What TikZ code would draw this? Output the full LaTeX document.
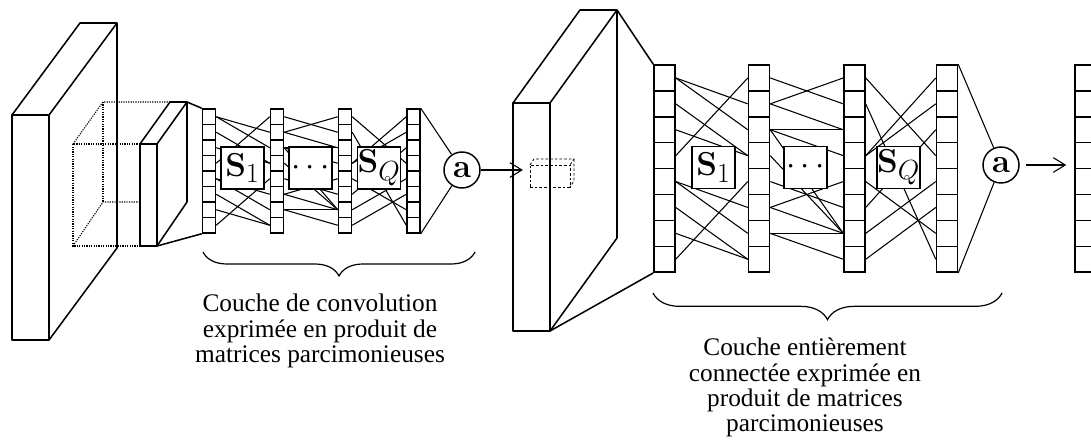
\documentclass[tikz,border=0pt]{standalone}
\usepackage[no-math]{fontspec}
\setmainfont{Liberation Serif}
\usetikzlibrary{decorations.pathreplacing,arrows.meta}
\newcommand{\netcol}[5]{%
  \foreach \i in {1,...,8}{%
    \node[cellbox, minimum width={#4*0.75pt}, minimum height={#5*0.75pt}] (#1-\i) at ({#2},{#3+(\i-0.5)*#5}) {};
  }}
\begin{document}
\begin{tikzpicture}[x=0.75pt,y=-0.75pt,
  slab/.style={line width=1.15pt, line join=round},
  cellbox/.style={draw, line width=1.1pt, inner sep=0pt, fill=white},
  conn/.style={line width=0.8pt},
  mat/.style={draw, line width=1.1pt, fill=white, inner sep=0pt, minimum width=32.25pt, minimum height=31.5pt, font=\fontsize{24.88}{28}\selectfont},
  act/.style={draw, circle, line width=1.1pt, fill=white, inner sep=0pt, minimum size=27pt, font=\fontsize{24.88}{28}\selectfont},
  arr/.style={line width=0.8pt, -{Straight Barb[length=9pt,width=11pt]}},
  lbl/.style={font=\fontsize{19}{19}\selectfont, align=center, inner sep=0pt, anchor=north},
  dots3/.style={dash pattern=on 0.9pt off 0.9pt, line width=0.8pt},
  dash3/.style={dash pattern=on 2pt off 1.5pt, line width=0.6pt},
  brc/.style={decorate, line width=0.9pt}]
\useasboundingbox (0,0) rectangle (1091,440);
\clip (0,0) rectangle (1091,440);

% ---------- left input slab ----------
\draw[slab] (12,115) rectangle (49,340);
\draw[slab] (12,115) -- (80,23) -- (117,23) -- (49,115);
\draw[slab] (117,23) -- (117,248) -- (49,340);

% dotted receptive field
\draw[dots3] (140,144) -- (73,144) -- (73,246) -- (140,246);
\draw[dots3] (73,144) -- (103,102) -- (170,102);
\draw[dots3] (73,246) -- (103,202) -- (140,202);
\draw[dots3] (103,102) -- (103,202);

% small solid slab
\draw[slab] (140,144) rectangle (157,246);
\draw[slab] (140,144) -- (170,102) -- (187,102) -- (157,144);
\draw[slab] (187,102) -- (187,202) -- (157,246);
\coordinate (sstr) at (187,102);
\coordinate (ssbr) at (157,246);

% ---------- left network ----------
\netcol{L1}{209}{109}{13}{15.5}
\netcol{L2}{277}{109}{13}{15.5}
\netcol{L3}{345}{109}{13}{15.5}
\netcol{L4}{413.5}{109}{13}{15.5}
\draw[slab] (sstr) -- (L1-1.north west);
\draw[slab] (ssbr) -- (L1-8.south west);
\foreach \a/\b in {1/2,1/3,2/4,3/4,4/1,5/6,5/7,6/8,7/8,8/5}
  \draw[conn] (L1-\a.east) -- (L2-\b.west);
\foreach \a/\b in {1/2,2/1,2/3,3/3,3/4,3/7,4/7,5/6,6/5,6/7,7/7,7/8}
  \draw[conn] (L2-\a.east) -- (L3-\b.west);
\foreach \a/\b in {1/4,2/8,4/1,4/2,5/7,6/3,7/5,8/6}
  \draw[conn] (L3-\a.east) -- (L4-\b.west);
\node[mat] (LS1) at (242.5,168) {$\mathbf{S}_1$};
\node[mat] (LSd) at (310.5,168) {$\cdots$};
\node[mat] (LSQ) at (379,168) {$\mathbf{S}_Q$};
\node[act] (La) at (462,170) {$\mathbf{a}$};
\draw[conn] (L4-1.north east) -- (La);
\draw[conn] (L4-8.south east) -- (La);

% ---------- middle slab ----------
\draw[slab] (513,103) rectangle (550,331);
\draw[slab] (513,103) -- (580,10) -- (617,10) -- (550,103);
\draw[slab] (617,10) -- (617,238) -- (550,331);
\coordinate (mstr) at (617,10);
\coordinate (msbr) at (550,331);
\node[draw, dash3, inner sep=0pt, minimum width=30pt, minimum height=16.5pt] (mc) at (550,176) {};
\draw[dash3] (530,165) -- (534,159) -- (574,159) -- (570,165);
\draw[dash3] (574,159) -- (574,181) -- (570,187);
\draw[arr, shorten >=5pt] (La.east) -- (La.east -| mc.west);

% ---------- right network ----------
\netcol{A}{664.5}{65}{21}{25.9}
\netcol{B}{759}{65}{21}{25.9}
\netcol{C}{854.5}{65}{21}{25.9}
\netcol{D}{947}{65}{21}{25.9}
\netcol{E}{1085.5}{65}{21}{25.9}
\draw[slab] (mstr) -- (A-1.north west);
\draw[slab] (msbr) -- (A-8.south west);
\foreach \a/\b in {1/2,1/3,2/4,3/4,4/1,5/6,5/7,6/8,7/8,8/5}
  \draw[conn] (A-\a.east) -- (B-\b.west);
\foreach \a/\b in {1/2,2/1,2/3,3/3,3/4,3/7,4/7,5/6,6/5,6/7,7/7,7/8}
  \draw[conn] (B-\a.east) -- (C-\b.west);
\foreach \a/\b in {1/4,2/8,4/1,4/2,5/7,6/3,7/5,8/6}
  \draw[conn] (C-\a.east) -- (D-\b.west);
\node[mat] (RS1) at (713.5,167.5) {$\mathbf{S}_1$};
\node[mat] (RSd) at (805.5,167.5) {$\cdots$};
\node[mat] (RSQ) at (898.5,167.5) {$\mathbf{S}_Q$};
\node[act] (Ra) at (1001,165) {$\mathbf{a}$};
\draw[conn] (D-1.north east) -- (Ra);
\draw[conn] (D-8.south east) -- (Ra);
\draw[arr, shorten <=5pt, shorten >=6pt] (Ra.east) -- (Ra.east -| E-1.west);

% ---------- braces and labels ----------
\draw[brc, decoration={brace, mirror, amplitude=18pt}] (203,252) -- (475,252);
\draw[brc, decoration={brace, mirror, amplitude=20pt}] (653,293) -- (1002,293);
\node[lbl] (t1) at (320,294) {Couche de convolution\\exprimée en produit de\\matrices parcimonieuses};
\node[lbl] (t2) at (805,338) {Couche entièrement\\connectée exprimée en\\produit de matrices\\parcimonieuses};
\end{tikzpicture}
\end{document}
